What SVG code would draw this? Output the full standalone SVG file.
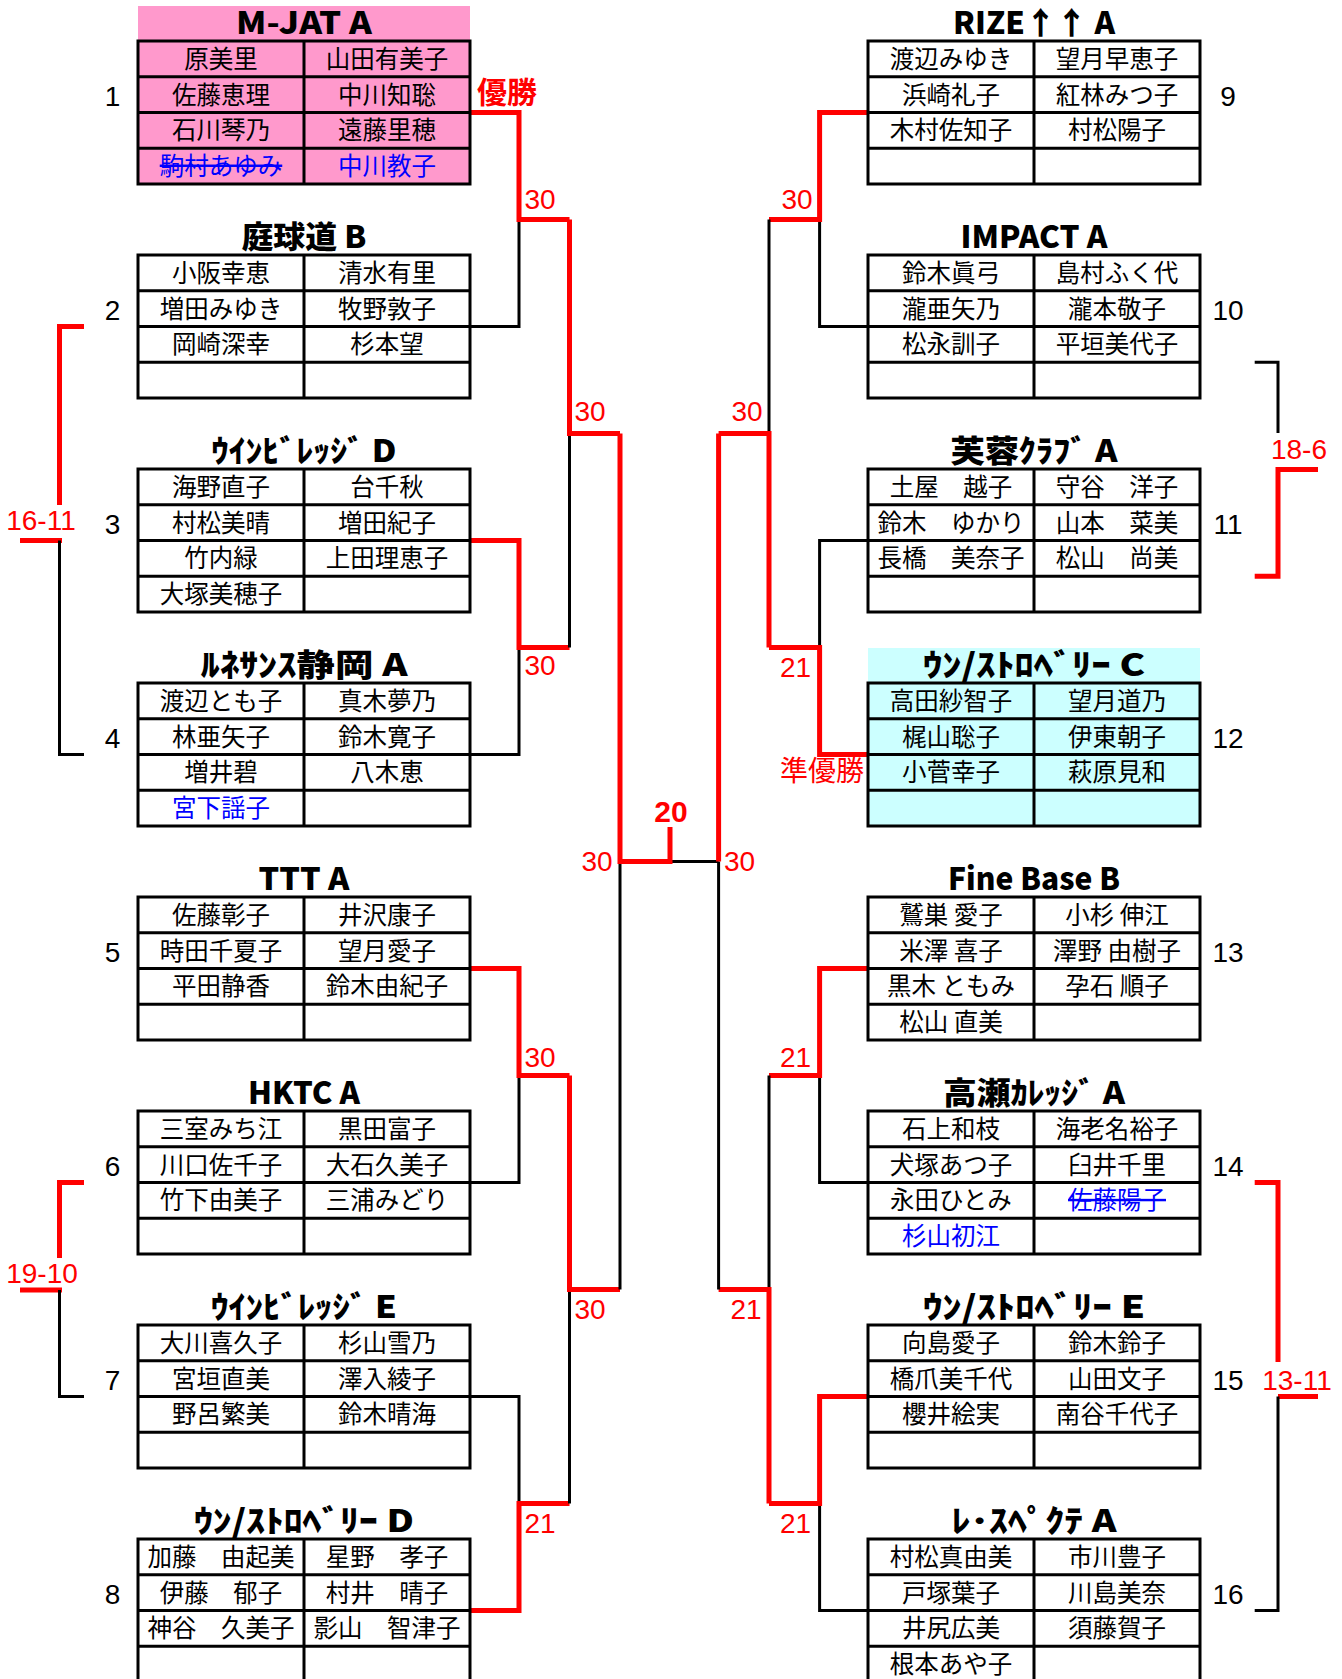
<svg xmlns="http://www.w3.org/2000/svg" xmlns:xlink="http://www.w3.org/1999/xlink" width="1342" height="1679" viewBox="0 0 1342 1679">
<style>
.n{font-family:'Noto Sans CJK JP','Noto Sans CJK SC',sans-serif;font-size:24.5px;text-anchor:middle;fill:#000}
.b{fill:#0000FF}
.s{text-decoration:line-through}
.ti{font-family:'Noto Sans CJK JP','Noto Sans CJK SC',sans-serif;font-size:31px;font-weight:900;text-anchor:middle;fill:#000}
.no{font-family:'Liberation Sans',Arial,sans-serif;font-size:28px;text-anchor:middle;fill:#000}
.sc{font-family:'Liberation Sans',Arial,sans-serif;font-size:28px;text-anchor:middle;fill:#FF0000}
.r{fill:none;stroke:#FF0000;stroke-width:5}
.k{fill:none;stroke:#000;stroke-width:3}
.lbl{font-family:'Noto Sans CJK JP','Noto Sans CJK SC',sans-serif;fill:#FF0000}
</style>
<defs>
<path id="grid" d="M0,0H332V143H0Z M166,0V143 M0,35.75H332 M0,71.5H332 M0,107.25H332" fill="none" stroke="#000" stroke-width="3"/>
</defs>
<rect width="1342" height="1679" fill="#fff"/>

<g id="connectors">
<path class="k" d="M470,326.5H519V219.5"/>
<path class="r" d="M470,112.5H519V219.5H569.5"/>
<path class="k" d="M470,754.5H519V647.5"/>
<path class="r" d="M470,540.5H519V647.5H569.5"/>
<path class="k" d="M569.5,647.5V433.5"/>
<path class="r" d="M569.5,219.5V433.5H620"/>
<path class="k" d="M470,1182.5H519V1075.5"/>
<path class="r" d="M470,968.5H519V1075.5H569.5"/>
<path class="k" d="M470,1396.5H519V1503.5"/>
<path class="r" d="M470,1610.5H519V1503.5H569.5"/>
<path class="k" d="M569.5,1503.5V1289.5"/>
<path class="r" d="M569.5,1075.5V1289.5H620"/>
<path class="k" d="M620,1289.5V861.5"/>
<path class="k" d="M670,861.5H718.6"/>
<path class="r" d="M620,433.5V861.5H670V827"/>
<path class="k" d="M868,326.5H819.6V219.5"/>
<path class="r" d="M868,112.5H819.6V219.5H769"/>
<path class="k" d="M868,540.5H819.6V647.5"/>
<path class="r" d="M868,754.5H819.6V647.5H769"/>
<path class="k" d="M769,219.5V433.5"/>
<path class="r" d="M769,647.5V433.5H718.6"/>
<path class="k" d="M868,1182.5H819.6V1075.5"/>
<path class="r" d="M868,968.5H819.6V1075.5H769"/>
<path class="k" d="M868,1610.5H819.6V1503.5"/>
<path class="r" d="M868,1396.5H819.6V1503.5H769"/>
<path class="k" d="M769,1075.5V1289.5"/>
<path class="r" d="M769,1503.5V1289.5H718.6"/>
<path class="k" d="M718.6,1289.5V861.5"/>
<path class="r" d="M718.6,433.5V861.5"/>
<path class="r" d="M84,326.5H59.5V505"/>
<path class="r" d="M20,540.5H62"/>
<path class="k" d="M59.5,540.5V754.5H84"/>
<path class="r" d="M84,1182.5H59.5V1258"/>
<path class="r" d="M20,1290H62"/>
<path class="k" d="M59.5,1290V1396.5H84"/>
<path class="k" d="M1254.7,362.25H1278V433"/>
<path class="r" d="M1318,469.5H1278V576.25H1254.7"/>
<path class="r" d="M1254.7,1182.5H1278V1362"/>
<path class="r" d="M1278,1396.5H1318"/>
<path class="k" d="M1278,1396.5V1610.5H1254.7"/>
</g>

<g id="scores">
<text class="sc" x="540" y="209">30</text>
<text class="sc" x="540" y="675">30</text>
<text class="sc" x="590" y="421">30</text>
<text class="sc" x="597" y="871">30</text>
<text class="sc" x="540" y="1067">30</text>
<text class="sc" x="540" y="1533">21</text>
<text class="sc" x="590" y="1319">30</text>
<text class="sc" x="797" y="209">30</text>
<text class="sc" x="795.5" y="677">21</text>
<text class="sc" x="747" y="421">30</text>
<text class="sc" x="739.5" y="871">30</text>
<text class="sc" x="795.5" y="1067">21</text>
<text class="sc" x="795.5" y="1533">21</text>
<text class="sc" x="746" y="1319">21</text>
<text class="sc" x="41" y="530">16-11</text>
<text class="sc" x="42" y="1283">19-10</text>
<text class="sc" x="1299" y="459">18-6</text>
<text class="sc" x="1297" y="1390">13-11</text>
<text x="671" y="822" font-family="'Liberation Sans',Arial,sans-serif" font-size="30" font-weight="bold" text-anchor="middle" fill="#FF0000">20</text>
<text class="lbl" x="477" y="103" font-size="30" font-weight="bold">優勝</text>
<text class="lbl" x="864" y="781" font-size="28" text-anchor="end">準優勝</text>
</g>

<g id="team1" transform="translate(138,41)">
<rect x="0" y="-35" width="332" height="178" fill="#FF99CC"/>
<text class="ti" x="166" y="-7.5" textLength="136" lengthAdjust="spacingAndGlyphs">M-JAT A</text>
<use xlink:href="#grid"/>
<text class="n" x="83" y="26.9">原美里</text><text class="n" x="249" y="26.9">山田有美子</text>
<text class="n" x="83" y="62.6">佐藤恵理</text><text class="n" x="249" y="62.6">中川知聡</text>
<text class="n" x="83" y="98.4">石川琴乃</text><text class="n" x="249" y="98.4">遠藤里穂</text>
<text class="n b s" x="83" y="134.1">駒村あゆみ</text><text class="n b" x="249" y="134.1">中川教子</text>
<text class="no" x="-25.5" y="64.5">1</text>
</g>

<g id="team2" transform="translate(138,255)">
<text class="ti" x="166" y="-7.5" textLength="125" lengthAdjust="spacingAndGlyphs">庭球道 B</text>
<use xlink:href="#grid"/>
<text class="n" x="83" y="26.9">小阪幸恵</text><text class="n" x="249" y="26.9">清水有里</text>
<text class="n" x="83" y="62.6">増田みゆき</text><text class="n" x="249" y="62.6">牧野敦子</text>
<text class="n" x="83" y="98.4">岡崎深幸</text><text class="n" x="249" y="98.4">杉本望</text>
<text class="no" x="-25.5" y="64.5">2</text>
</g>

<g id="team3" transform="translate(138,469)">
<text class="ti" x="166" y="-7.5" textLength="185" lengthAdjust="spacingAndGlyphs">ｳｲﾝﾋﾞﾚｯｼﾞ D</text>
<use xlink:href="#grid"/>
<text class="n" x="83" y="26.9">海野直子</text><text class="n" x="249" y="26.9">台千秋</text>
<text class="n" x="83" y="62.6">村松美晴</text><text class="n" x="249" y="62.6">増田紀子</text>
<text class="n" x="83" y="98.4">竹内緑</text><text class="n" x="249" y="98.4">上田理恵子</text>
<text class="n" x="83" y="134.1">大塚美穂子</text>
<text class="no" x="-25.5" y="64.5">3</text>
</g>

<g id="team4" transform="translate(138,683)">
<text class="ti" x="166" y="-7.5" textLength="207" lengthAdjust="spacingAndGlyphs">ﾙﾈｻﾝｽ静岡 A</text>
<use xlink:href="#grid"/>
<text class="n" x="83" y="26.9">渡辺とも子</text><text class="n" x="249" y="26.9">真木夢乃</text>
<text class="n" x="83" y="62.6">林亜矢子</text><text class="n" x="249" y="62.6">鈴木寛子</text>
<text class="n" x="83" y="98.4">増井碧</text><text class="n" x="249" y="98.4">八木恵</text>
<text class="n b" x="83" y="134.1">宮下謡子</text>
<text class="no" x="-25.5" y="64.5">4</text>
</g>

<g id="team5" transform="translate(138,897)">
<text class="ti" x="166" y="-7.5" textLength="91" lengthAdjust="spacingAndGlyphs">TTT A</text>
<use xlink:href="#grid"/>
<text class="n" x="83" y="26.9">佐藤彰子</text><text class="n" x="249" y="26.9">井沢康子</text>
<text class="n" x="83" y="62.6">時田千夏子</text><text class="n" x="249" y="62.6">望月愛子</text>
<text class="n" x="83" y="98.4">平田静香</text><text class="n" x="249" y="98.4">鈴木由紀子</text>
<text class="no" x="-25.5" y="64.5">5</text>
</g>

<g id="team6" transform="translate(138,1111)">
<text class="ti" x="166" y="-7.5" textLength="112" lengthAdjust="spacingAndGlyphs">HKTC A</text>
<use xlink:href="#grid"/>
<text class="n" x="83" y="26.9">三室みち江</text><text class="n" x="249" y="26.9">黒田富子</text>
<text class="n" x="83" y="62.6">川口佐千子</text><text class="n" x="249" y="62.6">大石久美子</text>
<text class="n" x="83" y="98.4">竹下由美子</text><text class="n" x="249" y="98.4">三浦みどり</text>
<text class="no" x="-25.5" y="64.5">6</text>
</g>

<g id="team7" transform="translate(138,1325)">
<text class="ti" x="166" y="-7.5" textLength="186" lengthAdjust="spacingAndGlyphs">ｳｲﾝﾋﾞﾚｯｼﾞ E</text>
<use xlink:href="#grid"/>
<text class="n" x="83" y="26.9">大川喜久子</text><text class="n" x="249" y="26.9">杉山雪乃</text>
<text class="n" x="83" y="62.6">宮垣直美</text><text class="n" x="249" y="62.6">澤入綾子</text>
<text class="n" x="83" y="98.4">野呂繁美</text><text class="n" x="249" y="98.4">鈴木晴海</text>
<text class="no" x="-25.5" y="64.5">7</text>
</g>

<g id="team8" transform="translate(138,1539)">
<text class="ti" x="166" y="-7.5" textLength="220" lengthAdjust="spacingAndGlyphs">ｳﾝ/ｽﾄﾛﾍﾞﾘｰ D</text>
<use xlink:href="#grid"/>
<text class="n" x="83" y="26.9">加藤　由起美</text><text class="n" x="249" y="26.9">星野　孝子</text>
<text class="n" x="83" y="62.6">伊藤　郁子</text><text class="n" x="249" y="62.6">村井　晴子</text>
<text class="n" x="83" y="98.4">神谷　久美子</text><text class="n" x="249" y="98.4">影山　智津子</text>
<text class="no" x="-25.5" y="64.5">8</text>
</g>

<g id="team9" transform="translate(868,41)">
<text class="ti" x="166" y="-7.5" textLength="162" lengthAdjust="spacingAndGlyphs">RIZE↑↑ A</text>
<use xlink:href="#grid"/>
<text class="n" x="83" y="26.9">渡辺みゆき</text><text class="n" x="249" y="26.9">望月早恵子</text>
<text class="n" x="83" y="62.6">浜崎礼子</text><text class="n" x="249" y="62.6">紅林みつ子</text>
<text class="n" x="83" y="98.4">木村佐知子</text><text class="n" x="249" y="98.4">村松陽子</text>
<text class="no" x="360" y="64.5">9</text>
</g>

<g id="team10" transform="translate(868,255)">
<text class="ti" x="166" y="-7.5" textLength="147" lengthAdjust="spacingAndGlyphs">IMPACT A</text>
<use xlink:href="#grid"/>
<text class="n" x="83" y="26.9">鈴木眞弓</text><text class="n" x="249" y="26.9">島村ふく代</text>
<text class="n" x="83" y="62.6">瀧亜矢乃</text><text class="n" x="249" y="62.6">瀧本敬子</text>
<text class="n" x="83" y="98.4">松永訓子</text><text class="n" x="249" y="98.4">平垣美代子</text>
<text class="no" x="360" y="64.5">10</text>
</g>

<g id="team11" transform="translate(868,469)">
<text class="ti" x="166" y="-7.5" textLength="167" lengthAdjust="spacingAndGlyphs">芙蓉ｸﾗﾌﾞ A</text>
<use xlink:href="#grid"/>
<text class="n" x="83" y="26.9">土屋　越子</text><text class="n" x="249" y="26.9">守谷　洋子</text>
<text class="n" x="83" y="62.6">鈴木　ゆかり</text><text class="n" x="249" y="62.6">山本　菜美</text>
<text class="n" x="83" y="98.4">長橋　美奈子</text><text class="n" x="249" y="98.4">松山　尚美</text>
<text class="no" x="360" y="64.5">11</text>
</g>

<g id="team12" transform="translate(868,683)">
<rect x="0" y="-35" width="332" height="178" fill="#CCFFFF"/>
<text class="ti" x="166" y="-7.5" textLength="222" lengthAdjust="spacingAndGlyphs">ｳﾝ/ｽﾄﾛﾍﾞﾘｰ C</text>
<use xlink:href="#grid"/>
<text class="n" x="83" y="26.9">高田紗智子</text><text class="n" x="249" y="26.9">望月道乃</text>
<text class="n" x="83" y="62.6">梶山聡子</text><text class="n" x="249" y="62.6">伊東朝子</text>
<text class="n" x="83" y="98.4">小菅幸子</text><text class="n" x="249" y="98.4">萩原見和</text>
<text class="no" x="360" y="64.5">12</text>
</g>

<g id="team13" transform="translate(868,897)">
<text class="ti" x="166" y="-7.5" textLength="172" lengthAdjust="spacingAndGlyphs">Fine Base B</text>
<use xlink:href="#grid"/>
<text class="n" x="83" y="26.9">鷲巣 愛子</text><text class="n" x="249" y="26.9">小杉 伸江</text>
<text class="n" x="83" y="62.6">米澤 喜子</text><text class="n" x="249" y="62.6">澤野 由樹子</text>
<text class="n" x="83" y="98.4">黒木 ともみ</text><text class="n" x="249" y="98.4">孕石 順子</text>
<text class="n" x="83" y="134.1">松山 直美</text>
<text class="no" x="360" y="64.5">13</text>
</g>

<g id="team14" transform="translate(868,1111)">
<text class="ti" x="166" y="-7.5" textLength="182" lengthAdjust="spacingAndGlyphs">高瀬ｶﾚｯｼﾞ A</text>
<use xlink:href="#grid"/>
<text class="n" x="83" y="26.9">石上和枝</text><text class="n" x="249" y="26.9">海老名裕子</text>
<text class="n" x="83" y="62.6">犬塚あつ子</text><text class="n" x="249" y="62.6">臼井千里</text>
<text class="n" x="83" y="98.4">永田ひとみ</text><text class="n b s" x="249" y="98.4">佐藤陽子</text>
<text class="n b" x="83" y="134.1">杉山初江</text>
<text class="no" x="360" y="64.5">14</text>
</g>

<g id="team15" transform="translate(868,1325)">
<text class="ti" x="166" y="-7.5" textLength="222" lengthAdjust="spacingAndGlyphs">ｳﾝ/ｽﾄﾛﾍﾞﾘｰ E</text>
<use xlink:href="#grid"/>
<text class="n" x="83" y="26.9">向島愛子</text><text class="n" x="249" y="26.9">鈴木鈴子</text>
<text class="n" x="83" y="62.6">橋爪美千代</text><text class="n" x="249" y="62.6">山田文子</text>
<text class="n" x="83" y="98.4">櫻井絵実</text><text class="n" x="249" y="98.4">南谷千代子</text>
<text class="no" x="360" y="64.5">15</text>
</g>

<g id="team16" transform="translate(868,1539)">
<text class="ti" x="166" y="-7.5" textLength="165" lengthAdjust="spacingAndGlyphs">ﾚ･ｽﾍﾟｸﾃ A</text>
<use xlink:href="#grid"/>
<text class="n" x="83" y="26.9">村松真由美</text><text class="n" x="249" y="26.9">市川豊子</text>
<text class="n" x="83" y="62.6">戸塚葉子</text><text class="n" x="249" y="62.6">川島美奈</text>
<text class="n" x="83" y="98.4">井尻広美</text><text class="n" x="249" y="98.4">須藤賀子</text>
<text class="n" x="83" y="134.1">根本あや子</text>
<text class="no" x="360" y="64.5">16</text>
</g>
</svg>
